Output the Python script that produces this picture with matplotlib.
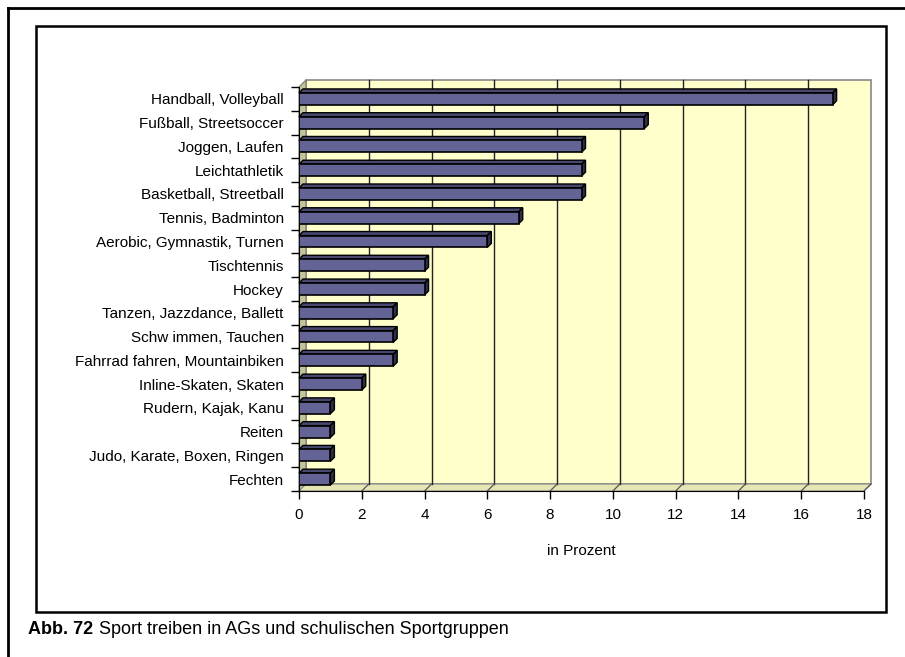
import numpy as np
import matplotlib
matplotlib.use("Agg")
import matplotlib.pyplot as plt
from matplotlib.patches import Polygon, Rectangle
from matplotlib.lines import Line2D

plt.rcParams['font.family'] = ['Liberation Sans', 'DejaVu Sans']

# data (top to bottom as in the chart)
sports = ["Handball, Volleyball", "Fußball, Streetsoccer", "Joggen, Laufen",
          "Leichtathletik", "Basketball, Streetball", "Tennis, Badminton",
          "Aerobic, Gymnastik, Turnen", "Tischtennis", "Hockey",
          "Tanzen, Jazzdance, Ballett", "Schw immen, Tauchen",
          "Fahrrad fahren, Mountainbiken", "Inline-Skaten, Skaten",
          "Rudern, Kajak, Kanu", "Reiten", "Judo, Karate, Boxen, Ringen", "Fechten"]
percent = [17, 11, 9, 9, 9, 7, 6, 4, 4, 3, 3, 3, 2, 1, 1, 1, 1]
xticks = [0, 2, 4, 6, 8, 10, 12, 14, 16, 18]

W, H = 905, 657
fig = plt.figure(figsize=(W / 100, H / 100), dpi=100)

# axes (front plane) in pixels
x0, x1, ytop, ybot = 299, 864, 87, 491
ax = fig.add_axes([x0 / W, (H - ybot) / H, (x1 - x0) / W, (ybot - ytop) / H])
ax.set_xlim(0, 18)
ax.set_ylim(-0.5, 16.5)
ax.patch.set_visible(False)

n = len(sports)
ypos = np.arange(n)[::-1]

# pixel -> data conversions for 3d depth
px_x = (x1 - x0) / 18.0
px_y = (ybot - ytop) / 17.0
wdx, wdy = 7 / px_x, 7 / px_y      # wall depth
bdx, bdy = 4 / px_x, 4 / px_y      # bar depth

wall = '#FFFFCC'
# back wall
ax.add_patch(Rectangle((wdx, -0.5 + wdy), 18, 17, facecolor=wall,
                       edgecolor='#888888', lw=1.2, clip_on=False, zorder=0))
# side wall
ax.add_patch(Polygon([(0, -0.5), (0, 16.5), (wdx, 16.5 + wdy), (wdx, -0.5 + wdy)],
                     closed=True, facecolor='#C4C49A', edgecolor='#777777', lw=0.8,
                     clip_on=False, zorder=1))
# floor
ax.add_patch(Polygon([(0, -0.5), (18, -0.5), (18 + wdx, -0.5 + wdy), (wdx, -0.5 + wdy)],
                     closed=True, facecolor='#E6E6B4', edgecolor='#888888', lw=0.8,
                     clip_on=False, zorder=1))
# gridlines on wall and floor
for t in xticks[1:-1]:
    ax.plot([t + wdx, t + wdx], [-0.5 + wdy, 16.5 + wdy], color='#222222', lw=1.0,
            clip_on=False, zorder=2)
for t in xticks[1:]:
    ax.plot([t, t + wdx], [-0.5, -0.5 + wdy], color='#555555', lw=0.9,
            clip_on=False, zorder=2)

# bars
bh = 0.5
ax.barh(ypos, percent, height=bh, color='#636396', edgecolor='black', lw=1.2, zorder=5)
for y, v in zip(ypos, percent):
    top = y + bh / 2
    bot = y - bh / 2
    ax.add_patch(Polygon([(0, top), (v, top), (v + bdx, top + bdy), (bdx, top + bdy)],
                         closed=True, facecolor='#48486E', edgecolor='black', lw=1.0,
                         clip_on=False, zorder=4))
    ax.add_patch(Polygon([(v, bot), (v, top), (v + bdx, top + bdy), (v + bdx, bot + bdy)],
                         closed=True, facecolor='#2E2E48', edgecolor='black', lw=1.0,
                         clip_on=False, zorder=4))

# axes styling
for s in ['top', 'right']:
    ax.spines[s].set_visible(False)
ax.spines['left'].set_color('black')
ax.spines['bottom'].set_color('black')
ax.spines['left'].set_zorder(3)
ax.spines['bottom'].set_zorder(3)

ax.set_xticks(xticks)
ax.set_xticklabels([str(t) for t in xticks], fontsize=11)
ax.tick_params(axis='x', direction='out', length=6, width=1, pad=6)

ax.set_yticks(ypos)
ax.set_yticklabels(sports, fontsize=11)
ax.set_yticks(np.arange(-0.5, 17, 1), minor=True)
ax.tick_params(axis='y', which='major', length=0, pad=11)
ax.tick_params(axis='y', which='minor', direction='out', length=6, width=1)

ax.set_xlabel("in Prozent", fontsize=11, labelpad=16)

# frames
fig.add_artist(Line2D([8 / W, 1], [1 - 8 / H, 1 - 8 / H], color='black', lw=2))
fig.add_artist(Line2D([8 / W, 8 / W], [0, 1 - 8 / H], color='black', lw=2))
fig.add_artist(Rectangle((36 / W, 1 - 612 / H), (886 - 36) / W, (612 - 26) / H,
                         fill=False, edgecolor='black', lw=1.8))

# caption
fig.text(28 / W, 1 - 630 / H, "Abb. 72", fontsize=13, fontweight='bold', va='center')
fig.text(99 / W, 1 - 630 / H, "Sport treiben in AGs und schulischen Sportgruppen",
         fontsize=13, va='center')

fig.savefig("out.png", dpi=100)
